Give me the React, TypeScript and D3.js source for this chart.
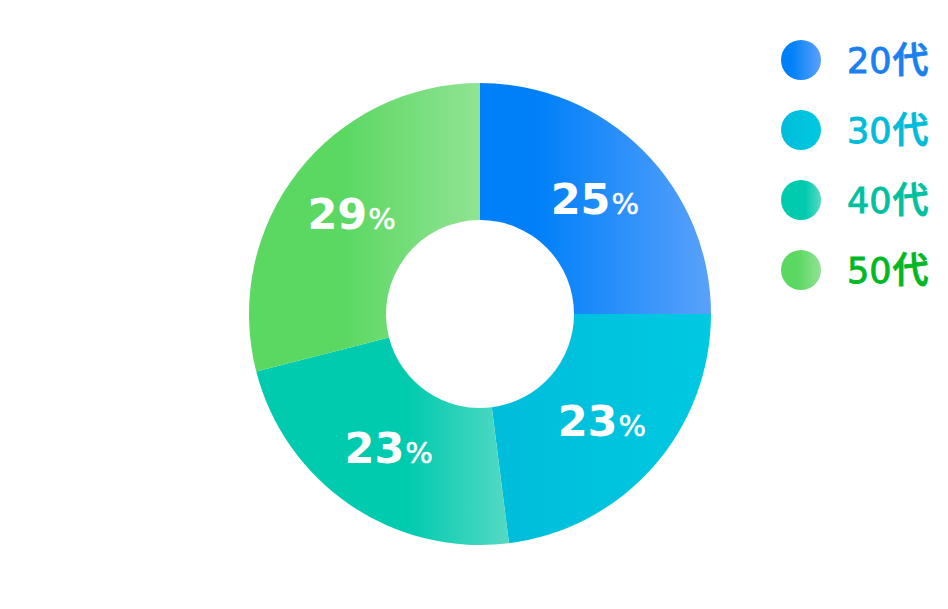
import React from "react";
import * as d3 from "d3";

// Age-group share of respondents (percent)
const categories = ["20代", "30代", "40代", "50代"];
const shares = [25, 23, 23, 29];

// Per-slice gradient: base colour, where it starts to lighten, light end colour
const baseColors = ["#0080f8", "#00bedb", "#00cbaf", "#5ad862"];
const lightColors = ["#5aa1fb", "#00c9e2", "#55d9c3", "#91e393"];
const fadeStart = [0.25, 0.1, 0.6, 0.4];
const legendTextColors = ["#1a80f0", "#00bcd8", "#00c0a0", "#00b823"];

const W = 948;
const H = 609;
const cx = 480;
const cy = 314;
const outerR = 231;
const innerR = 94;

export default function App() {
  const pie = d3
    .pie<number>()
    .sort(null)
    .value((d) => d)
    .startAngle(0)
    .endAngle(2 * Math.PI);
  const arcs = pie(shares);
  const arc = d3.arc<d3.PieArcDatum<number>>().innerRadius(innerR).outerRadius(outerR);
  const labelArc = d3
    .arc<d3.PieArcDatum<number>>()
    .innerRadius((innerR + outerR) / 2)
    .outerRadius((innerR + outerR) / 2);

  const legendY = d3.scalePoint<string>().domain(categories).range([60, 270]);

  return (
    <svg
      width={W}
      height={H}
      viewBox={`0 0 ${W} ${H}`}
      style={{ position: "absolute", left: 0, top: 0, display: "block", background: "#fff" }}
    >
      <defs>
        {categories.map((c, i) => (
          <linearGradient key={c} id={`grad-${i}`} x1="0" y1="0" x2="1" y2="0">
            <stop offset="0" stopColor={baseColors[i]} />
            <stop offset={fadeStart[i]} stopColor={baseColors[i]} />
            <stop offset="1" stopColor={lightColors[i]} />
          </linearGradient>
        ))}
      </defs>

      <g transform={`translate(${cx},${cy})`}>
        {arcs.map((a, i) => (
          <path key={categories[i]} d={arc(a) || ""} fill={`url(#grad-${i})`} />
        ))}
        {arcs.map((a, i) => {
          const [lx, ly] = labelArc.centroid(a);
          return (
            <text
              key={`lbl-${i}`}
              x={lx}
              y={ly + 15}
              textAnchor="middle"
              fill="#fff"
              fontFamily="'DejaVu Sans', sans-serif"
            >
              <tspan fontSize={43} fontWeight="bold">
                {a.data}
              </tspan>
              <tspan fontSize={29} dx={1} stroke="#fff" strokeWidth={0.5}>
                %
              </tspan>
            </text>
          );
        })}
      </g>

      <g>
        {categories.map((c, i) => {
          const y = legendY(c) as number;
          const num = c.replace("代", "");
          return (
            <g key={`lg-${c}`}>
              <circle cx={801} cy={y} r={20} fill={`url(#grad-${i})`} />
              <text
                x={847}
                y={y + 12.5}
                fill={legendTextColors[i]}
                stroke={legendTextColors[i]}
                strokeWidth={0.9}
              >
                <tspan fontSize={35} fontFamily="'DejaVu Sans', sans-serif">
                  {num}
                </tspan>
                <tspan
                  fontSize={36}
                  fontWeight={500}
                  dx={1}
                  fontFamily="'Noto Sans CJK JP', sans-serif"
                >
                  代
                </tspan>
              </text>
            </g>
          );
        })}
      </g>
    </svg>
  );
}
